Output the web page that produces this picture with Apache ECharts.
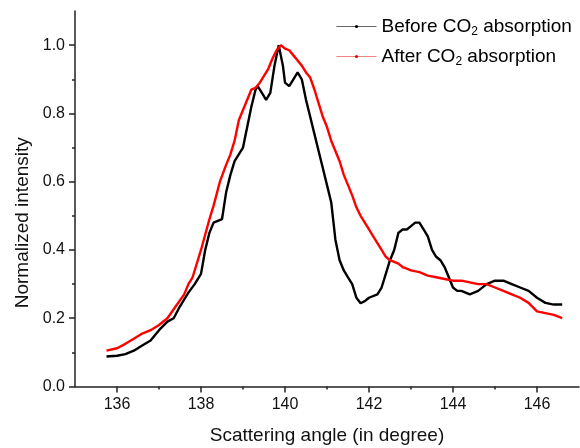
<!DOCTYPE html>
<html>
<head>
<meta charset="utf-8">
<script src="https://cdn.jsdelivr.net/npm/echarts@6/dist/echarts.min.js"></script>
<style>
html,body{margin:0;padding:0;background:#fff;}
#chart{width:580px;height:448px;}
</style>
</head>
<body>
<div id="chart"></div>
<script>
// before CO2 absorption (black)
var beforeAngle = [135.75,136.0,136.2,136.4,136.6,136.8,137.0,137.2,137.35,137.5,137.7,137.85,138.0,138.1,138.2,138.3,138.5,138.6,138.7,138.8,138.9,139.0,139.1,139.2,139.3,139.35,139.45,139.55,139.65,139.75,139.85,139.95,140.0,140.1,140.2,140.3,140.4,140.5,140.6,140.7,140.8,140.9,141.0,141.1,141.2,141.3,141.4,141.5,141.6,141.7,141.8,141.9,142.0,142.2,142.3,142.4,142.5,142.6,142.7,142.8,142.9,143.0,143.1,143.2,143.3,143.4,143.5,143.6,143.7,143.8,143.9,144.0,144.1,144.2,144.4,144.6,144.8,145.0,145.2,145.4,145.6,145.8,146.0,146.2,146.4,146.6];
var beforeValue = [0.088,0.09,0.095,0.105,0.12,0.135,0.165,0.19,0.20,0.235,0.275,0.30,0.33,0.40,0.45,0.48,0.49,0.57,0.62,0.66,0.68,0.70,0.76,0.82,0.87,0.88,0.86,0.84,0.86,0.94,1.0,0.94,0.89,0.88,0.90,0.92,0.90,0.84,0.79,0.74,0.69,0.64,0.59,0.54,0.43,0.37,0.34,0.32,0.30,0.26,0.244,0.25,0.26,0.27,0.29,0.33,0.37,0.40,0.45,0.46,0.46,0.47,0.48,0.48,0.46,0.44,0.40,0.38,0.37,0.35,0.32,0.29,0.28,0.28,0.27,0.28,0.30,0.31,0.31,0.30,0.29,0.28,0.26,0.245,0.24,0.24];

// after CO2 absorption (red)
var afterAngle = [135.75,136.0,136.2,136.4,136.6,136.8,137.0,137.2,137.4,137.6,137.7,137.8,138.0,138.2,138.3,138.45,138.6,138.7,138.8,138.9,139.0,139.1,139.2,139.3,139.4,139.5,139.6,139.7,139.8,139.9,140.0,140.1,140.2,140.3,140.4,140.5,140.6,140.7,140.8,140.9,141.0,141.1,141.2,141.3,141.4,141.5,141.6,141.7,141.8,141.9,142.0,142.1,142.2,142.3,142.4,142.5,142.6,142.7,142.8,142.9,143.0,143.2,143.4,143.6,143.8,144.0,144.2,144.4,144.6,144.8,145.0,145.2,145.4,145.6,145.8,146.0,146.2,146.4,146.6];
var afterValue = [0.105,0.112,0.125,0.14,0.155,0.165,0.18,0.20,0.235,0.27,0.30,0.32,0.40,0.49,0.53,0.60,0.65,0.68,0.72,0.78,0.81,0.84,0.87,0.875,0.89,0.91,0.93,0.96,0.985,1.0,0.99,0.985,0.97,0.955,0.94,0.92,0.905,0.87,0.83,0.79,0.76,0.72,0.69,0.66,0.62,0.59,0.56,0.525,0.50,0.48,0.46,0.44,0.42,0.40,0.38,0.37,0.365,0.36,0.35,0.345,0.34,0.335,0.325,0.32,0.315,0.31,0.31,0.305,0.30,0.30,0.29,0.28,0.27,0.26,0.245,0.22,0.215,0.21,0.20];

var xMajor = [136,138,140,142,144,146];
var xMinor = [137,139,141,143,145];
var yMajor = [0,0.2,0.4,0.6,0.8,1.0];
var yMinor = [0.1,0.3,0.5,0.7,0.9];

var seriesNames = ['Before CO2 absorption','After CO2 absorption'];

function pairs(xs, ys){
	var out = [];
	for(var i = 0; i < xs.length; i++){
		out.push([xs[i], ys[i]]);
	}
	return out;
}

var font = 'Liberation Sans, Arial, sans-serif';
var axisColor = '#222';

var myChart = echarts.init(document.getElementById('chart'));
var option = {
	animation: false,
	backgroundColor: '#fff',
	grid: {left: 75, right: 1, top: 11, bottom: 61.5, containLabel: false, outerBoundsMode: 'none'},
	legend: {
		orient: 'vertical',
		left: 331,
		top: 10,
		itemWidth: 40,
		itemHeight: 4,
		itemGap: 7,
		data: [
			{name: seriesNames[0], lineStyle: {width: 1, color: '#666'}, itemStyle: {color: '#000'}},
			{name: seriesNames[1], lineStyle: {width: 1, color: '#f08080'}, itemStyle: {color: '#e00'}}
		],
		formatter: function(name){
			return name.replace('CO2', 'CO{sub|2}');
		},
		textStyle: {
			fontFamily: font,
			fontSize: 19,
			color: '#000',
			lineHeight: 23,
			rich: {
				sub: {fontFamily: font, fontSize: 12, color: '#000', padding: [12, 0, 0, 0], verticalAlign: 'bottom'}
			}
		}
	},
	xAxis: [
		{
			type: 'value',
			min: 135,
			max: 147,
			interval: 1,
			name: 'Scattering angle (in degree)',
			nameLocation: 'middle',
			nameGap: 40,
			nameTextStyle: {fontFamily: font, fontSize: 19, color: '#111'},
			axisLine: {show: true, lineStyle: {color: axisColor, width: 1.5}},
			axisTick: {show: true, inside: false, length: 6, customValues: xMajor, lineStyle: {color: axisColor, width: 1.5}},
			axisLabel: {customValues: xMajor, fontFamily: font, fontSize: 16, color: '#111', margin: 10},
			splitLine: {show: false}
		},
		{
			type: 'value',
			min: 135,
			max: 147,
			interval: 1,
			position: 'bottom',
			axisLine: {show: false},
			axisTick: {show: true, inside: false, length: 3, customValues: xMinor, lineStyle: {color: axisColor, width: 1.5}},
			axisLabel: {show: false},
			splitLine: {show: false}
		}
	],
	yAxis: [
		{
			type: 'value',
			min: 0,
			max: 1.1,
			interval: 0.1,
			name: 'Normalized intensity',
			nameLocation: 'middle',
			nameGap: 42,
			nameTextStyle: {fontFamily: font, fontSize: 19, color: '#111', padding: [0, 48, 0, 0]},
			axisLine: {show: true, lineStyle: {color: axisColor, width: 1.5}},
			axisTick: {show: true, inside: false, length: 6, customValues: yMajor, lineStyle: {color: axisColor, width: 1.5}},
			axisLabel: {
				customValues: yMajor,
				fontFamily: font, fontSize: 16, color: '#111', margin: 10,
				formatter: function(v){ return v.toFixed(1); }
			},
			splitLine: {show: false}
		},
		{
			type: 'value',
			min: 0,
			max: 1.1,
			interval: 0.1,
			position: 'left',
			axisLine: {show: false},
			axisTick: {show: true, inside: false, length: 3, customValues: yMinor, lineStyle: {color: axisColor, width: 1.5}},
			axisLabel: {show: false},
			splitLine: {show: false}
		}
	],
	series: [
		{
			name: seriesNames[0],
			type: 'line',
			xAxisIndex: 0,
			yAxisIndex: 0,
			symbol: 'circle',
			symbolSize: 3,
			showSymbol: false,
			color: '#000',
			lineStyle: {width: 2.4, color: '#000'},
			data: pairs(beforeAngle, beforeValue)
		},
		{
			name: seriesNames[1],
			type: 'line',
			xAxisIndex: 0,
			yAxisIndex: 0,
			symbol: 'circle',
			symbolSize: 3,
			showSymbol: false,
			color: '#f00',
			lineStyle: {width: 2.4, color: '#f00'},
			data: pairs(afterAngle, afterValue)
		}
	]
};
myChart.setOption(option);
</script>
</body>
</html>
